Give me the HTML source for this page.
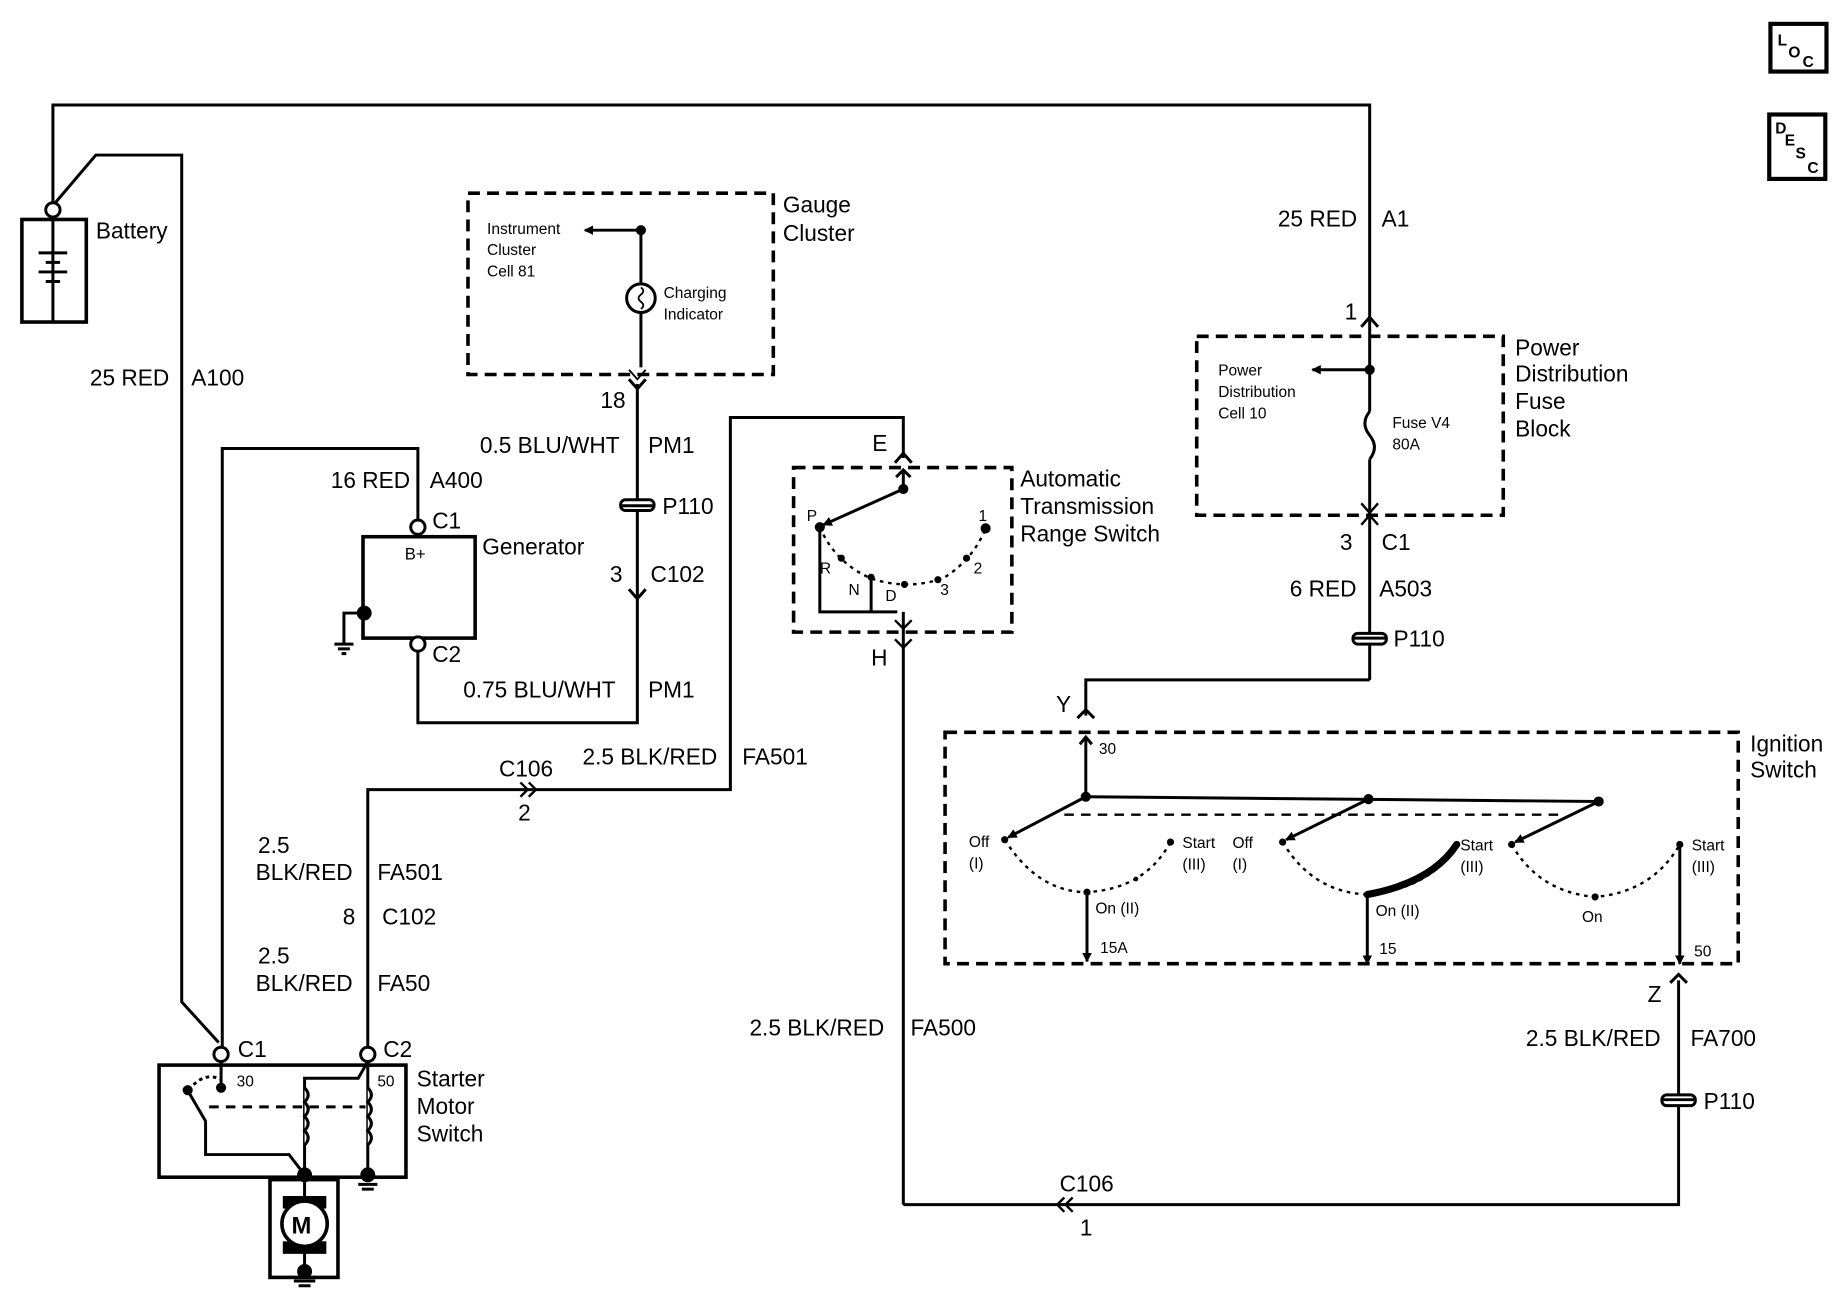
<!DOCTYPE html>
<html><head><meta charset="utf-8"><style>html,body{margin:0;padding:0;background:#fff}svg{display:block}</style></head><body>
<svg width="1846" height="1312" viewBox="0 0 1547 1100" xmlns="http://www.w3.org/2000/svg" font-family="Liberation Sans, sans-serif" fill="none" stroke="#000" stroke-width="2.5">
<defs><marker id="a" markerWidth="8" markerHeight="8" refX="7" refY="4" orient="auto" markerUnits="userSpaceOnUse"><path d="M0,0 L8,4 L0,8 Z" fill="#000" stroke="none"/></marker></defs>
<rect x="1484" y="20" width="47" height="40" stroke-width="3.5"/>
<rect x="1483" y="96" width="47" height="54" stroke-width="3.5"/>
<g fill="#000" stroke="none" font-size="13" font-weight="bold"><text x="1490" y="38">L</text><text x="1499" y="48">O</text><text x="1511" y="56">C</text>
<text x="1488" y="112">D</text><text x="1496" y="122">E</text><text x="1505" y="133">S</text><text x="1515" y="145">C</text></g>
<polyline points="44,170 44,88 1148,88 1148,268"/>
<path d="M1141,274 L1148,266 L1155,274"/>
<rect x="18" y="184" width="54" height="86" stroke-width="3"/>
<circle cx="44" cy="176" r="6" fill="#fff"/>
<line x1="44" y1="182" x2="44" y2="270"/>
<line x1="32" y1="212" x2="56" y2="212"/><line x1="38" y1="220" x2="50" y2="220"/><line x1="32" y1="228" x2="56" y2="228"/><line x1="38" y1="236" x2="50" y2="236"/>
<polyline points="46,170 80,130 152,130 152,840 183,874"/>
<polyline points="186,878 186,376 350,376 350,436"/>
<circle cx="350" cy="442" r="6" fill="#fff"/>
<rect x="304" y="450" width="94" height="85" stroke-width="3"/>
<circle cx="350" cy="540" r="6" fill="#fff"/>
<circle cx="305" cy="514" r="5" fill="#000"/>
<polyline points="305,514 288,514 288,540"/>
<line x1="280" y1="540" x2="296" y2="540"/><line x1="283" y1="544" x2="293" y2="544"/><line x1="286" y1="548" x2="290" y2="548"/>
<polyline points="350,546 350,606 534,606 534,322"/>
<path d="M527,494 L534,502 L541,494"/><path d="M527,318 L534,326 L541,318"/>
<path d="M527,310 L534,318 L541,310" stroke-width="1.5"/>
<rect x="520" y="419" width="28" height="9" rx="4" fill="#fff"/><line x1="520" y1="424" x2="548" y2="424"/>
<rect x="392" y="162" width="256" height="152" stroke-dasharray="10,6" stroke-width="3"/>
<line x1="537" y1="193" x2="537" y2="238"/><line x1="537" y1="262" x2="537" y2="308"/>
<circle cx="537" cy="250" r="12"/>
<path d="M537,241 q4,3 0,6 q-4,3 0,6 q4,3 0,6" stroke-width="1.5"/>
<line x1="537" y1="193" x2="490" y2="193" marker-end="url(#a)"/>
<circle cx="537" cy="193" r="3" fill="#000"/>
<polyline points="308,878 308,662 612,662 612,350 757,350 757,384"/>
<path d="M436,656 L442,662 L436,668 M443,656 L449,662 L443,668" stroke-width="2"/>
<path d="M750,388 L757,380 L764,388"/>
<circle cx="185" cy="884" r="6" fill="#fff"/><circle cx="308" cy="884" r="6" fill="#fff"/>
<rect x="133" y="893" width="207" height="94" stroke-width="3"/>
<line x1="185" y1="890" x2="185" y2="912"/><circle cx="185" cy="912" r="3" fill="#000"/>
<path d="M158,914 Q170,898 185,905" stroke-dasharray="3,3"/>
<circle cx="157" cy="914" r="3" fill="#000"/>
<polyline points="158,916 172,940 172,968 242,968 255,985"/>
<line x1="175" y1="928" x2="306" y2="928" stroke-dasharray="8,6"/>
<polyline points="308,890 300,904 255,904 255,985"/>
<path d="M255,912 q6,6 0,12 q6,6 0,12 q6,6 0,12 q6,6 0,12" fill="#fff"/>
<path d="M308,890 L308,985"/>
<path d="M308,912 q6,6 0,12 q6,6 0,12 q6,6 0,12 q6,6 0,12" fill="#fff"/>
<circle cx="255" cy="985" r="5" fill="#000"/><circle cx="308" cy="985" r="5" fill="#000"/>
<line x1="300" y1="993" x2="316" y2="993"/><line x1="303" y1="997" x2="313" y2="997"/>
<rect x="226" y="989" width="57" height="82" stroke-width="3"/>
<line x1="255" y1="985" x2="255" y2="1005"/><line x1="255" y1="1045" x2="255" y2="1066"/>
<rect x="238" y="1004" width="34" height="8" fill="#000"/><rect x="238" y="1042" width="34" height="8" fill="#000"/>
<circle cx="255" cy="1026" r="19" fill="#fff" stroke-width="3"/>
<circle cx="255" cy="1066" r="5" fill="#000"/><line x1="246" y1="1074" x2="264" y2="1074"/><line x1="250" y1="1078" x2="260" y2="1078"/>
<rect x="665" y="392" width="183" height="138" stroke-dasharray="10,6" stroke-width="3"/>
<line x1="757" y1="396" x2="757" y2="410"/><path d="M751,400 L757,394 L763,400"/>
<line x1="757" y1="410" x2="690" y2="440" marker-end="url(#a)"/>
<circle cx="757" cy="410" r="3" fill="#000"/>
<circle cx="687" cy="442" r="3" fill="#000"/><circle cx="826" cy="443" r="3" fill="#000"/>
<path d="M687,442 Q700,472 730,485 Q760,495 790,485 Q815,470 826,443" stroke-dasharray="3,4" stroke-width="2"/>
<g fill="#000" stroke="none"><circle cx="705" cy="468" r="3"/><circle cx="730" cy="484" r="3"/><circle cx="758" cy="490" r="3"/><circle cx="786" cy="486" r="3"/><circle cx="810" cy="468" r="3"/></g>
<polyline points="687,445 687,513 752,513"/><polyline points="730,484 730,513"/>
<line x1="757" y1="513" x2="757" y2="1010"/>
<path d="M750,520 L757,527 L764,520 M750,536 L757,543 L764,536" stroke-width="2"/>
<polyline points="757,1010 1407,1010 1407,822"/>
<path d="M892,1004 L886,1010 L892,1016 M899,1004 L893,1010 L899,1016" stroke-width="2"/>
<path d="M1400,824 L1407,817 L1414,824"/>
<rect x="1393" y="918" width="28" height="9" rx="4" fill="#fff"/><line x1="1393" y1="922" x2="1421" y2="922"/>
<rect x="1003" y="282" width="257" height="150" stroke-dasharray="10,6" stroke-width="3"/>
<line x1="1148" y1="268" x2="1148" y2="345"/>
<path d="M1148,345 q-8,10 0,20 q8,10 0,20" />
<line x1="1148" y1="385" x2="1148" y2="570"/>
<line x1="1148" y1="310" x2="1100" y2="310" marker-end="url(#a)"/><circle cx="1148" cy="310" r="3" fill="#000"/>
<path d="M1141,422 L1148,430 L1155,422 M1141,440 L1148,432 L1155,440" stroke-width="2"/>
<rect x="1134" y="531" width="28" height="9" rx="4" fill="#fff"/><line x1="1134" y1="535" x2="1162" y2="535"/>
<polyline points="1148,570 910,570 910,600"/>
<path d="M903,602 L910,595 L917,602"/>
<rect x="792" y="614" width="665" height="194" stroke-dasharray="10,6" stroke-width="3"/>
<line x1="910" y1="620" x2="910" y2="668"/><path d="M905,624 L910,618 L915,624"/>
<line x1="910" y1="668" x2="1340" y2="672"/>
<circle cx="910" cy="668" r="3" fill="#000"/><circle cx="1147" cy="670" r="3" fill="#000"/><circle cx="1340" cy="672" r="3" fill="#000"/>
<line x1="910" y1="668" x2="845" y2="702" marker-end="url(#a)"/>
<line x1="1147" y1="670" x2="1078" y2="704" marker-end="url(#a)"/>
<line x1="1340" y1="672" x2="1270" y2="706" marker-end="url(#a)"/>
<line x1="892" y1="683" x2="1310" y2="683" stroke-dasharray="8,6" stroke-width="2"/>
<path d="M842,704 Q870,748 911,748 Q960,745 981,706" stroke-dasharray="3,4" stroke-width="2"/>
<path d="M1075,706 Q1100,748 1146,750 Q1200,745 1221,708" stroke-dasharray="3,4" stroke-width="2"/>
<path d="M1146,750 Q1200,740 1221,708" stroke-width="6"/>
<path d="M1267,708 Q1290,748 1337,752 Q1385,748 1408,708" stroke-dasharray="3,4" stroke-width="2"/>
<g fill="#000" stroke="none"><circle cx="842" cy="704" r="3"/><circle cx="981" cy="706" r="3"/><circle cx="1075" cy="706" r="3"/><circle cx="1221" cy="708" r="3"/><circle cx="1267" cy="708" r="3"/><circle cx="1408" cy="708" r="3"/><circle cx="911" cy="748" r="3"/><circle cx="1146" cy="750" r="3"/><circle cx="1337" cy="752" r="3"/><circle cx="952" cy="737" r="2"/></g>
<line x1="911" y1="748" x2="911" y2="806" marker-end="url(#a)"/>
<line x1="1146" y1="750" x2="1146" y2="808" marker-end="url(#a)"/>
<line x1="1408" y1="708" x2="1408" y2="808" marker-end="url(#a)"/>
<g fill="#000" stroke="none" font-size="19">
<text x="80" y="200">Battery</text>
<text x="75" y="323">25 RED</text><text x="160" y="323">A100</text>
<text x="656" y="178">Gauge</text><text x="656" y="202">Cluster</text>
<text x="503" y="342">18</text>
<text x="402" y="380">0.5 BLU/WHT</text><text x="543" y="380">PM1</text>
<text x="277" y="409">16 RED</text><text x="360" y="409">A400</text>
<text x="555" y="431">P110</text>
<text x="362" y="443">C1</text>
<text x="404" y="465">Generator</text>
<text x="511" y="488">3</text><text x="545" y="488">C102</text>
<text x="362" y="555">C2</text>
<text x="388" y="585">0.75 BLU/WHT</text><text x="543" y="585">PM1</text>
<text x="488" y="641">2.5 BLK/RED</text><text x="622" y="641">FA501</text>
<text x="418" y="651">C106</text><text x="434" y="688">2</text>
<text x="216" y="715">2.5</text><text x="214" y="738">BLK/RED</text><text x="316" y="738">FA501</text>
<text x="287" y="775">8</text><text x="320" y="775">C102</text>
<text x="216" y="808">2.5</text><text x="214" y="831">BLK/RED</text><text x="316" y="831">FA50</text>
<text x="199" y="886">C1</text><text x="321" y="886">C2</text>
<text x="349" y="911">Starter</text><text x="349" y="934">Motor</text><text x="349" y="957">Switch</text>
<text x="731" y="378">E</text>
<text x="855" y="408">Automatic</text><text x="855" y="431">Transmission</text><text x="855" y="454">Range Switch</text>
<text x="730" y="558">H</text>
<text x="628" y="868">2.5 BLK/RED</text><text x="763" y="868">FA500</text>
<text x="888" y="999">C106</text><text x="905" y="1036">1</text>
<text x="1071" y="190">25 RED</text><text x="1158" y="190">A1</text>
<text x="1127" y="268">1</text>
<text x="1270" y="298">Power</text><text x="1270" y="320">Distribution</text><text x="1270" y="343">Fuse</text><text x="1270" y="366">Block</text>
<text x="1123" y="461">3</text><text x="1158" y="461">C1</text>
<text x="1081" y="500">6 RED</text><text x="1156" y="500">A503</text>
<text x="1168" y="542">P110</text>
<text x="885" y="597">Y</text>
<text x="1467" y="630">Ignition</text><text x="1467" y="652">Switch</text>
<text x="1381" y="840">Z</text>
<text x="1279" y="877">2.5 BLK/RED</text><text x="1417" y="877">FA700</text>
<text x="1428" y="930">P110</text>
<text x="244" y="1034" font-weight="bold" font-size="20">M</text>
</g>
<g fill="#000" stroke="none" font-size="13">
<text x="339" y="469" font-size="14">B+</text>
<text x="408" y="196">Instrument</text><text x="408" y="214">Cluster</text><text x="408" y="232">Cell 81</text>
<text x="556" y="250">Charging</text><text x="556" y="268">Indicator</text>
<text x="1021" y="315">Power</text><text x="1021" y="333">Distribution</text><text x="1021" y="351">Cell 10</text>
<text x="1167" y="359">Fuse V4</text><text x="1167" y="377">80A</text>
<text x="198" y="911">30</text><text x="316" y="911">50</text>
<text x="676" y="437">P</text><text x="820" y="437">1</text><text x="687" y="481">R</text><text x="711" y="499">N</text><text x="742" y="504">D</text><text x="788" y="499">3</text><text x="816" y="481">2</text>
<text x="921" y="632">30</text>
<text x="812" y="710">Off</text><text x="812" y="728">(I)</text>
<text x="991" y="711">Start</text><text x="991" y="729">(III)</text>
<text x="1033" y="711">Off</text><text x="1033" y="729">(I)</text>
<text x="1224" y="713">Start</text><text x="1224" y="731">(III)</text>
<text x="1418" y="713">Start</text><text x="1418" y="731">(III)</text>
<text x="918" y="766">On (II)</text><text x="1153" y="768">On (II)</text><text x="1326" y="773">On</text>
<text x="922" y="799">15A</text><text x="1156" y="800">15</text><text x="1420" y="802">50</text>
</g>
</svg>
</body></html>
